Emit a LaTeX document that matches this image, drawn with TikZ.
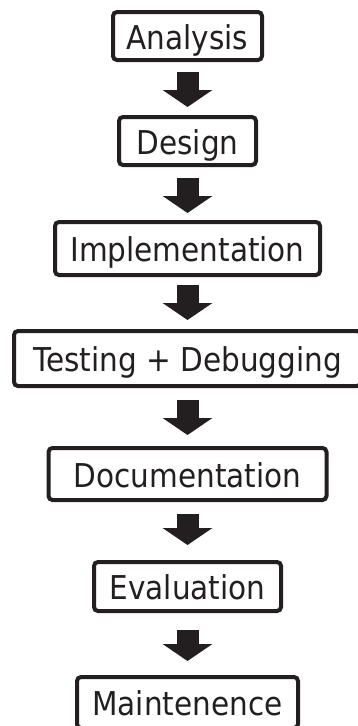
\documentclass[tikz,border=0pt]{standalone}
\usepackage{fontspec}
\setmainfont{DejaVu Sans}[FakeStretch=0.9]
\usetikzlibrary{arrows.meta}
\definecolor{ink}{HTML}{231F20}
\tikzset{
  stagebox/.style={draw=ink, line width=4pt, rounded corners=4pt, fill=white,
    inner sep=0pt, outer sep=2pt, text=ink, text height=26.9pt, text depth=0pt,
    font=\fontsize{32.8pt}{39pt}\selectfont},
  flow/.style={draw=ink, line width=22pt, -{Triangle[width=49pt,length=17pt]}}
}
\begin{document}
\begin{tikzpicture}[x=1pt,y=-1pt]
\useasboundingbox (0,0) rectangle (357,726);
\node[stagebox, minimum width=149pt, minimum height=48pt] (an) at (187.5,36) {Analysis};
\node[stagebox, minimum width=137pt, minimum height=48pt] (de) at (187.5,141) {Design};
\node[stagebox, minimum width=265pt, minimum height=53pt] (im) at (187.5,248.5) {Implementation};
\node[stagebox, minimum width=347pt, minimum height=55pt] (te) at (187.5,358.5) {Testing + Debugging};
\node[stagebox, minimum width=278pt, minimum height=52pt] (do) at (187.5,474) {Documentation};
\node[stagebox, minimum width=187pt, minimum height=49pt] (ev) at (187.5,586.5) {Evaluation};
\node[stagebox, minimum width=221pt, minimum height=51pt] (ma) at (187.5,702.5) {Maintenence};
\draw[flow] ([yshift=-10pt]an.south) -- ([yshift=8pt]de.north);
\draw[flow] ([yshift=-11pt]de.south) -- ([yshift=7pt]im.north);
\draw[flow] ([yshift=-8pt]im.south) -- ([yshift=9pt]te.north);
\draw[flow] ([yshift=-12pt]te.south) -- ([yshift=11pt]do.north);
\draw[flow] ([yshift=-12pt]do.south) -- ([yshift=15pt]ev.north);
\draw[flow] ([yshift=-17pt]ev.south) -- ([yshift=14pt]ma.north);
\end{tikzpicture}
\end{document}
